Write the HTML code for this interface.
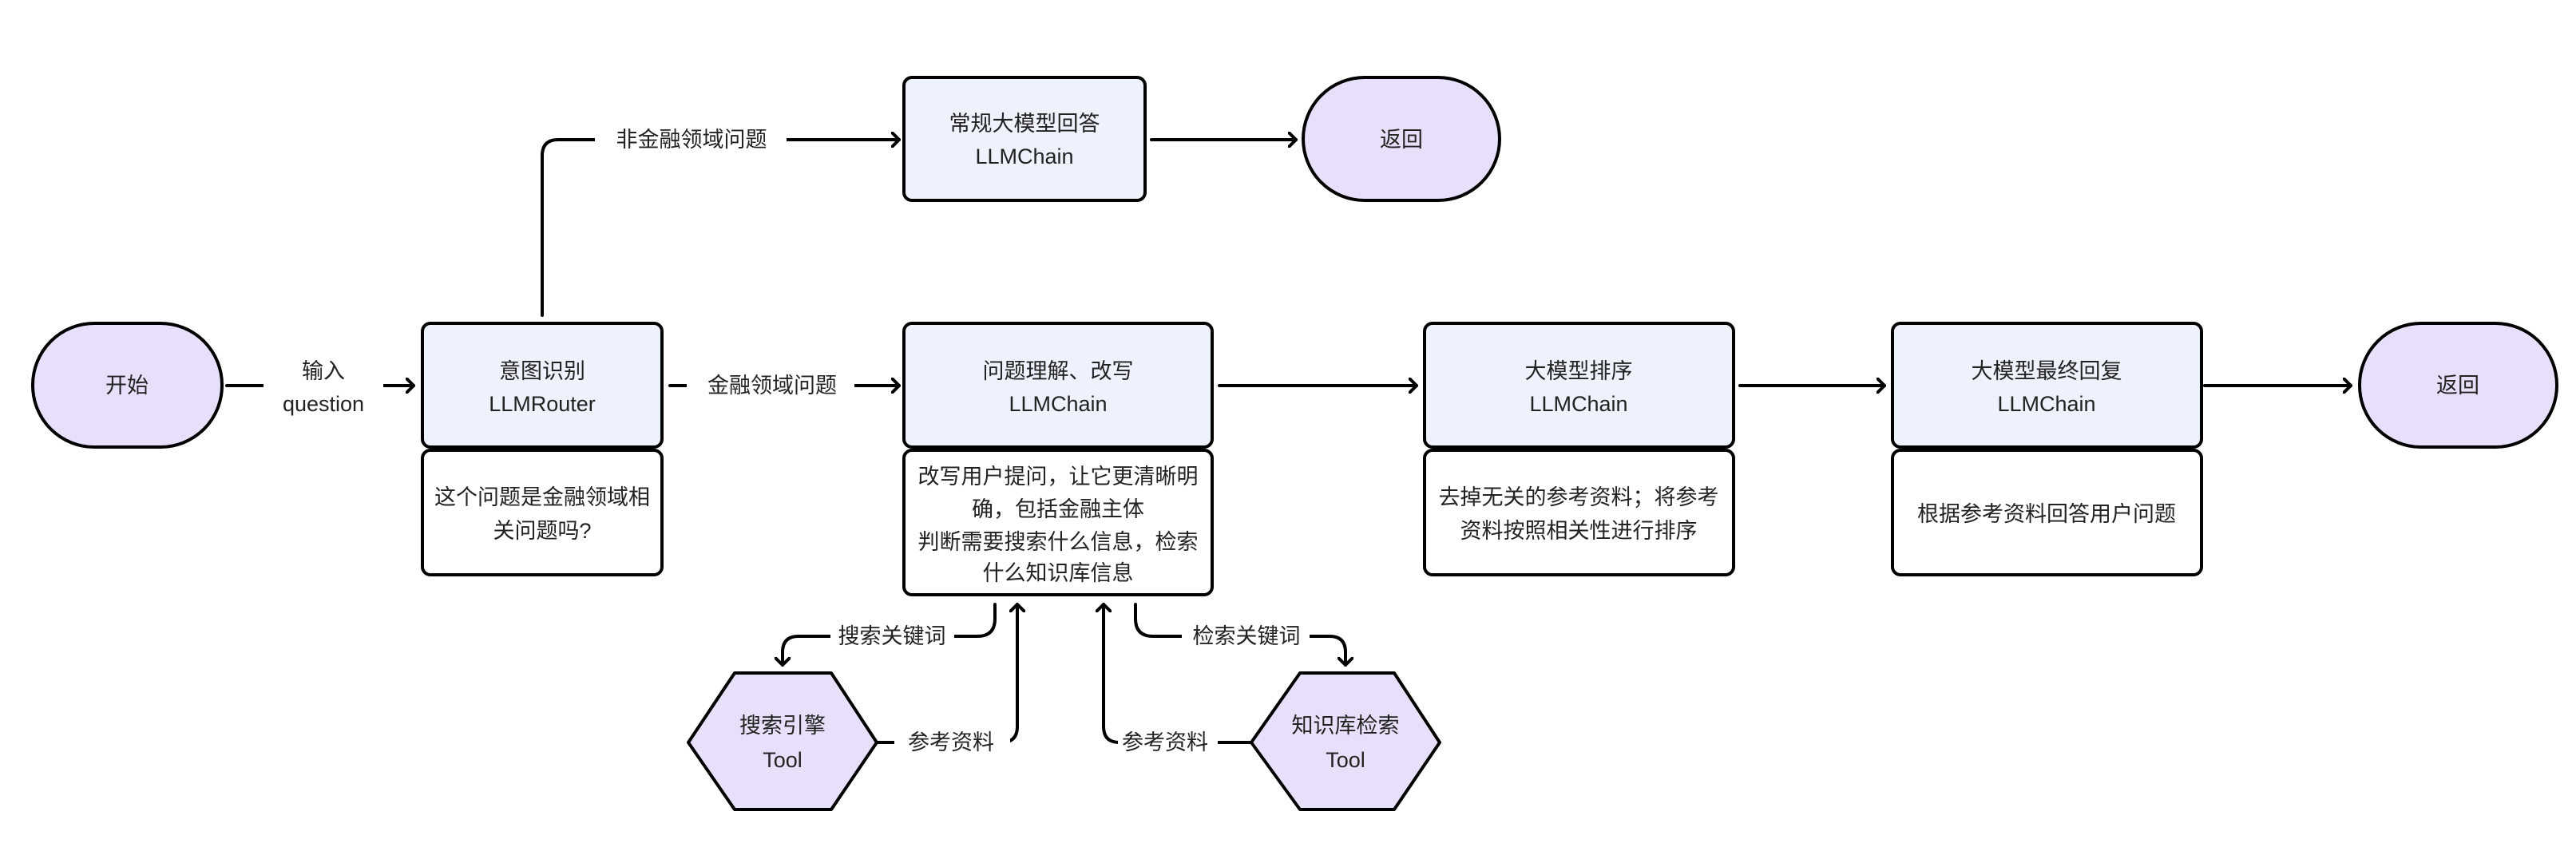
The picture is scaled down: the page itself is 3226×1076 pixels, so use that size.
<!DOCTYPE html>
<html><head><meta charset="utf-8"><style>
html,body{margin:0;padding:0;background:#fff;}
svg{display:block;}
text{font-family:"Liberation Sans","Noto Sans CJK SC",sans-serif;font-size:27px;fill:#222;text-anchor:middle;dominant-baseline:central;}
</style></head><body>
<svg width="3226" height="1076" viewBox="0 0 3226 1076" xmlns="http://www.w3.org/2000/svg">
<defs>
<marker id="a" markerWidth="12" markerHeight="20" refX="10" refY="10" orient="auto" markerUnits="userSpaceOnUse">
<path d="M1,1 L10,10 L1,19" fill="none" stroke="#000" stroke-width="4" stroke-linecap="round" stroke-linejoin="round"/>
</marker>
</defs>
<g fill="none" stroke="#000" stroke-width="4" stroke-linecap="round">
<!-- start to router -->
<line x1="284" y1="483" x2="518" y2="483" marker-end="url(#a)"/>
<!-- router up to 常规 -->
<path d="M679,395 L679,195 Q679,175 699,175 L1126,175" marker-end="url(#a)"/>
<line x1="1442" y1="175" x2="1623" y2="175" marker-end="url(#a)"/>
<line x1="839" y1="483" x2="1126" y2="483" marker-end="url(#a)"/>
<line x1="1527" y1="483" x2="1774" y2="483" marker-end="url(#a)"/>
<line x1="2179" y1="483" x2="2360" y2="483" marker-end="url(#a)"/>
<line x1="2761" y1="483" x2="2944" y2="483" marker-end="url(#a)"/>
<!-- bottom connectors -->
<path d="M1246,757 L1246,775 Q1246,797 1224,797 L1000,797 Q980,797 980,817 L980,833" marker-end="url(#a)"/>
<path d="M1098,930 L1254,930 Q1274,930 1274,910 L1274,757" marker-end="url(#a)"/>
<path d="M1567,930 L1402,930 Q1382,930 1382,910 L1382,757" marker-end="url(#a)"/>
<path d="M1422,757 L1422,775 Q1422,797 1444,797 L1665,797 Q1685,797 1685,817 L1685,833" marker-end="url(#a)"/>
</g>
<!-- label backgrounds -->
<g fill="#fff">
<rect x="330" y="440" width="150" height="90"/>
<rect x="745" y="155" width="240" height="40"/>
<rect x="860" y="463" width="210" height="40"/>
<rect x="1040" y="777" width="155" height="40"/>
<rect x="1480" y="777" width="160" height="40"/>
<rect x="1120" y="910" width="145" height="40"/>
<rect x="1400" y="910" width="125" height="40"/>
</g>
<text x="405" y="465">输入</text>
<text x="405" y="506">question</text>
<text x="866" y="175">非金融领域问题</text>
<text x="967" y="483">金融领域问题</text>
<text x="1117" y="797">搜索关键词</text>
<text x="1561" y="797">检索关键词</text>
<text x="1191" y="930">参考资料</text>
<text x="1459" y="930">参考资料</text>
<!-- shapes -->
<g stroke="#000" stroke-width="4">
<rect x="41" y="405" width="237" height="155" rx="77" fill="#e8e0fa"/>
<rect x="1632" y="97" width="246" height="154" rx="77" fill="#e8e0fa"/>
<rect x="2955" y="405" width="247" height="155" rx="77" fill="#e8e0fa"/>
<rect x="529" y="405" width="300" height="155" rx="10" fill="#eef2fc"/>
<rect x="529" y="564" width="300" height="156" rx="10" fill="#fff"/>
<rect x="1132" y="97" width="302" height="154" rx="10" fill="#eef2fc"/>
<rect x="1132" y="405" width="386" height="155" rx="10" fill="#eef2fc"/>
<rect x="1132" y="564" width="386" height="181" rx="10" fill="#fff"/>
<rect x="1784" y="405" width="387" height="155" rx="10" fill="#eef2fc"/>
<rect x="1784" y="564" width="387" height="156" rx="10" fill="#fff"/>
<rect x="2370" y="405" width="387" height="155" rx="10" fill="#eef2fc"/>
<rect x="2370" y="564" width="387" height="156" rx="10" fill="#fff"/>
<polygon points="920,843 1041,843 1098,930 1041,1014 920,1014 862,930" fill="#e8e0fa" stroke-linejoin="round"/>
<polygon points="1628,843 1746,843 1803,930 1746,1014 1628,1014 1567,930" fill="#e8e0fa" stroke-linejoin="round"/>
</g>
<text x="159" y="483">开始</text>
<text x="1755" y="175">返回</text>
<text x="3078" y="483">返回</text>
<text x="679" y="465">意图识别</text>
<text x="679" y="506">LLMRouter</text>
<text x="679" y="623">这个问题是金融领域相</text>
<text x="679" y="665">关问题吗?</text>
<text x="1283" y="155">常规大模型回答</text>
<text x="1283" y="196">LLMChain</text>
<text x="1325" y="465">问题理解、改写</text>
<text x="1325" y="506">LLMChain</text>
<text x="1325" y="597">改写用户提问，让它更清晰明</text>
<text x="1325" y="638">确，包括金融主体</text>
<text x="1325" y="679">判断需要搜索什么信息，检索</text>
<text x="1325" y="718">什么知识库信息</text>
<text x="1977" y="465">大模型排序</text>
<text x="1977" y="506">LLMChain</text>
<text x="1977" y="623">去掉无关的参考资料；将参考</text>
<text x="1977" y="665">资料按照相关性进行排序</text>
<text x="2563" y="465">大模型最终回复</text>
<text x="2563" y="506">LLMChain</text>
<text x="2563" y="644">根据参考资料回答用户问题</text>
<text x="980" y="909">搜索引擎</text>
<text x="980" y="952">Tool</text>
<text x="1685" y="909">知识库检索</text>
<text x="1685" y="952">Tool</text>
</svg>
</body></html>
